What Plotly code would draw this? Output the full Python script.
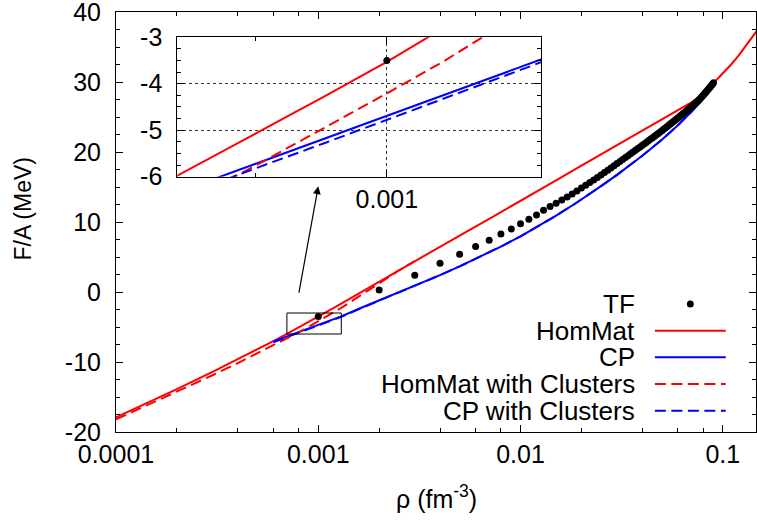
import numpy as np
import plotly.graph_objects as go

# ---------------- data ----------------
# TF (Thomas-Fermi) points, every 0.001 fm^-3
tf_rho = [round(0.001 * i, 3) for i in range(1, 91)]
tf_F = [-3.50, 0.30, 2.40, 4.10, 5.40, 6.50, 7.40, 8.30, 9.00, 9.76,
        10.40, 11.00, 11.67, 12.20, 12.67, 13.14, 13.57, 14.00, 14.43, 14.86,
        15.26, 15.64, 16.01, 16.37, 16.72, 17.06, 17.39, 17.71, 18.03, 18.36,
        18.65, 18.93, 19.21, 19.48, 19.74, 20.00, 20.25, 20.49, 20.73, 20.96,
        21.19, 21.41, 21.63, 21.84, 22.05, 22.25, 22.45, 22.65, 22.85, 23.05,
        23.24, 23.43, 23.62, 23.81, 23.99, 24.17, 24.35, 24.53, 24.70, 24.86,
        25.03, 25.20, 25.37, 25.53, 25.69, 25.85, 26.00, 26.16, 26.31, 26.44,
        26.59, 26.74, 26.90, 27.06, 27.23, 27.40, 27.57, 27.75, 27.93, 28.11,
        28.29, 28.47, 28.65, 28.83, 29.01, 29.19, 29.37, 29.55, 29.73, 29.91]

# HomMat (red solid)
hom_rho = [1e-4, 1.5e-4, 2e-4, 3e-4, 4e-4, 5e-4, 6e-4, 7e-4, 8e-4, 9e-4,
           1e-3, 1.1e-3, 1.2e-3, 1.3e-3, 1.5e-3, 2e-3, 3e-3, 4e-3, 5e-3, 7e-3,
           1e-2, 1.5e-2, 2e-2, 3e-2, 4e-2, 5e-2, 6e-2, 7e-2, 8e-2, 9e-2,
           0.10, 0.11, 0.12, 0.13, 0.14, 0.15]
hom_F = [-17.90, -15.56, -13.87, -11.42, -9.63, -8.20, -7.01, -5.98, -5.08, -4.27,
         -3.53, -2.85, -2.22, -1.64, -0.60, 1.50, 4.42, 6.48, 8.07, 10.45,
         12.98, 15.95, 18.05, 21.00, 23.10, 24.70, 26.00, 27.10, 28.30, 29.80,
         31.20, 32.50, 33.80, 35.10, 36.30, 37.60]

# CP (blue solid)
cp_rho = [6e-4, 7e-4, 8e-4, 9e-4, 1e-3, 1.3e-3, 1.6e-3, 2e-3, 3e-3, 3.5e-3,
          4e-3, 5e-3, 6e-3, 7e-3, 8e-3, 1e-2, 1.3e-2, 1.5e-2, 1.9e-2, 2e-2,
          2.5e-2, 3e-2, 4e-2, 5e-2, 6e-2, 7e-2, 8e-2, 9e-2]
cp_F = [-7.05, -6.34, -5.73, -5.19, -4.70, -3.48, -2.36, -1.22, 0.86, 1.68,
        2.41, 3.66, 4.72, 5.65, 6.49, 7.96, 9.82, 10.90, 12.79, 13.21,
        15.12, 16.74, 19.46, 21.75, 23.81, 25.75, 27.66, 29.58]

# HomMat with Clusters (red dashed)
homcl_rho = [1e-4, 1.5e-4, 2e-4, 3e-4, 4e-4, 5e-4, 6e-4, 7e-4, 8e-4, 9e-4,
             1e-3, 1.1e-3, 1.2e-3, 1.3e-3, 1.5e-3, 1.75e-3, 2e-3, 2.5e-3, 3e-3]
homcl_F = [-18.20, -15.91, -14.27, -11.89, -10.16, -8.78, -7.64, -6.65, -5.76, -4.95,
           -4.21, -3.53, -2.88, -2.26, -1.10, 0.18, 1.30, 3.07, 4.42]

# CP with Clusters (blue dashed)
cpcl_rho = cp_rho
cpcl_F = [-7.17, -6.44, -5.82, -5.275, -4.78, -3.54, -2.41, -1.26, 0.84, 1.67,
          2.41, 3.66, 4.72, 5.65, 6.49, 7.96, 9.82, 10.90, 12.79, 13.21,
          15.12, 16.74, 19.46, 21.75, 23.81, 25.75, 27.66, 29.58]

# axes / annotation values
main_x_range = [1e-4, 0.146]
main_y_range = [-20, 40]
x_major = [1e-4, 1e-3, 1e-2, 1e-1]
x_major_text = ["0.0001", "0.001", "0.01", "0.1"]
x_minor = [m * d for d in [1e-4, 1e-3, 1e-2] for m in (2, 4, 6, 8)]
y_major = [-20, -10, 0, 10, 20, 30, 40]
y_major_text = ["-20", "-10", "0", "10", "20", "30", "40"]
inset_x_range = [0.0007, 0.0013]
inset_y_range = [-6, -3]
inset_x_major = [0.001]
inset_x_text = ["0.001"]
inset_x_minor = [0.0008]
inset_y_major = [-6, -5, -4, -3]
inset_y_text = ["-6", "-5", "-4", "-3"]
arrow_from = (0.0008, -0.3)
arrow_to = (0.001, 15.1)

legend_names = ["TF", "HomMat", "CP", "HomMat with Clusters", "CP with Clusters"]

RED = "#ff0000"
BLUE = "#0000ff"
FONT = "Liberation Sans, Arial, Helvetica, sans-serif"

fig = go.Figure()

def add_series(xa, ya):
    fig.add_trace(go.Scatter(x=hom_rho, y=hom_F, mode="lines",
                             line=dict(color=RED, width=2), xaxis=xa, yaxis=ya))
    fig.add_trace(go.Scatter(x=cp_rho, y=cp_F, mode="lines",
                             line=dict(color=BLUE, width=2), xaxis=xa, yaxis=ya))
    fig.add_trace(go.Scatter(x=homcl_rho, y=homcl_F, mode="lines",
                             line=dict(color=RED, width=2, dash="11px,5.5px"),
                             xaxis=xa, yaxis=ya))
    fig.add_trace(go.Scatter(x=cpcl_rho, y=cpcl_F, mode="lines",
                             line=dict(color=BLUE, width=2, dash="11px,5.5px"),
                             xaxis=xa, yaxis=ya))
    fig.add_trace(go.Scatter(x=tf_rho, y=tf_F, mode="markers",
                             marker=dict(color="black", size=7), xaxis=xa, yaxis=ya))

add_series("x", "y")
add_series("x2", "y2")

# zoom box in the main plot
bx = [inset_x_range[0], inset_x_range[1], inset_x_range[1], inset_x_range[0], inset_x_range[0]]
by = [inset_y_range[0], inset_y_range[0], inset_y_range[1], inset_y_range[1], inset_y_range[0]]
fig.add_trace(go.Scatter(x=bx, y=by, mode="lines", line=dict(color="black", width=1),
                         xaxis="x", yaxis="y"))

axis_common = dict(showline=True, linecolor="black", linewidth=1, mirror="allticks",
                   ticks="inside", tickcolor="black", ticklen=7, tickwidth=1,
                   zeroline=False, automargin=False, ticklabeloverflow="allow",
                   tickfont=dict(size=25, color="black", family=FONT))

fig.update_layout(
    width=757, height=522,
    margin=dict(l=116, r=1, t=12, b=90),
    paper_bgcolor="white", plot_bgcolor="white",
    showlegend=False,
    font=dict(family=FONT, color="black", size=25),
    xaxis=dict(type="log", range=[np.log10(main_x_range[0]), np.log10(main_x_range[1])],
               tickvals=x_major, ticktext=x_major_text, showgrid=False,
               minor=dict(tickmode="array", tickvals=x_minor, ticks="inside", ticklen=4,
                          tickcolor="black", showgrid=False),
               **axis_common),
    yaxis=dict(range=main_y_range, tickvals=y_major, ticktext=y_major_text, showgrid=False,
               ticklabelstandoff=9,
               minor=dict(tickmode="linear", tick0=-20, dtick=2.5, ticks="inside", ticklen=4,
                          tickcolor="black", showgrid=False),
               **axis_common),
    xaxis2=dict(type="log", domain=[0.0958, 0.664], anchor="y2",
                range=[np.log10(inset_x_range[0]), np.log10(inset_x_range[1])],
                tickvals=inset_x_major, ticktext=inset_x_text,
                showgrid=True, gridcolor="#333333", griddash="dot", gridwidth=1,
                minor=dict(tickmode="array", tickvals=inset_x_minor, ticks="inside",
                           ticklen=4, tickcolor="black", showgrid=False),
                **axis_common),
    yaxis2=dict(domain=[0.608, 0.940], anchor="x2", range=inset_y_range,
                tickvals=inset_y_major, ticktext=inset_y_text, ticklabelstandoff=9,
                showgrid=True, gridcolor="#333333", griddash="dot", gridwidth=1,
                minor=dict(tickmode="linear", tick0=-6, dtick=0.25, ticks="inside",
                           ticklen=4, tickcolor="black", showgrid=False),
                **axis_common),
)

# arrow (annotation coordinates are log10 on log axes)
fig.add_annotation(x=np.log10(arrow_to[0]), y=arrow_to[1], xref="x", yref="y",
                   ax=np.log10(arrow_from[0]), ay=arrow_from[1], axref="x", ayref="y",
                   text="", showarrow=True, arrowhead=2, arrowsize=1.3, arrowwidth=1.2,
                   arrowcolor="black", standoff=0)

# axis titles
fig.add_annotation(text="F/A (MeV)", x=-0.146, y=0.531, xref="paper", yref="paper",
                   textangle=-90, showarrow=False, font=dict(size=23),
                   xanchor="center", yanchor="middle")
fig.add_annotation(text="ρ (fm<sup>-3</sup>)", x=0.5, y=-0.155, xref="paper", yref="paper",
                   showarrow=False, font=dict(size=25), xanchor="center", yanchor="middle")

# gnuplot-style key: right-aligned text, sample to the right
key_y = [0.3048, 0.2412, 0.1779, 0.1143, 0.0507]
key_text_x = 0.8136
key_x0, key_x1 = 0.842, 0.9527
key_styles = [None, (RED, "solid"), (BLUE, "solid"), (RED, "11px,5.5px"), (BLUE, "11px,5.5px")]
for name, yk, st in zip(legend_names, key_y, key_styles):
    fig.add_annotation(text=name, x=key_text_x, y=yk, xref="paper", yref="paper",
                       showarrow=False, xanchor="right", yanchor="middle",
                       font=dict(size=26))
    if st is None:
        cx = (key_x0 + key_x1) / 2
        fig.add_shape(type="circle", xref="paper", yref="paper",
                      x0=cx - 3.5 / 640, x1=cx + 3.5 / 640,
                      y0=yk - 3.5 / 420, y1=yk + 3.5 / 420,
                      fillcolor="black", line=dict(color="black", width=0))
    else:
        fig.add_shape(type="line", xref="paper", yref="paper",
                      x0=key_x0, x1=key_x1, y0=yk, y1=yk,
                      line=dict(color=st[0], width=2, dash=st[1]))

# the page's default 8px body margin would shift the 757x522 figure; remove it
fig.write_html("out.html", config={"displayModeBar": False},
               post_script="document.body.style.margin='0';")
